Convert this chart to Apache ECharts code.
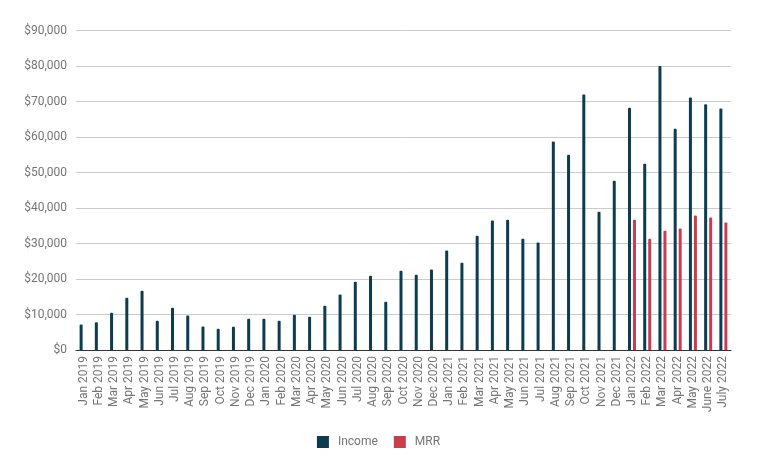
<!DOCTYPE html>
<html>
<head>
<meta charset="utf-8">
<script src="https://cdn.jsdelivr.net/npm/echarts@6/dist/echarts.min.js"></script>
<style>html,body{margin:0;padding:0;background:#fff}#c{width:757px;height:468px}</style>
</head>
<body>
<div id="c"></div>
<script>
const categories = ["Jan 2019","Feb 2019","Mar 2019","Apr 2019","May 2019","Jun 2019","Jul 2019","Aug 2019","Sep 2019","Oct 2019","Nov 2019","Dec 2019",
"Jan 2020","Feb 2020","Mar 2020","Apr 2020","May 2020","Jun 2020","Jul 2020","Aug 2020","Sep 2020","Oct 2020","Nov 2020","Dec 2020",
"Jan 2021","Feb 2021","Mar 2021","Apr 2021","May 2021","Jun 2021","Jul 2021","Aug 2021","Sep 2021","Oct 2021","Nov 2021","Dec 2021",
"Jan 2022","Feb 2022","Mar 2022","Apr 2022","May 2022","June 2022","July 2022"];
const income = [7200,7800,10500,14700,16700,8250,11900,9750,6650,6000,6550,8800,
8800,8250,9950,9400,12500,15600,19250,20950,13600,22350,21200,22650,
28000,24600,32200,36450,36700,31350,30250,58700,55000,71950,38950,47700,
68250,52500,80000,62350,71100,69200,68050];
const mrr = [null,null,null,null,null,null,null,null,null,null,null,null,
null,null,null,null,null,null,null,null,null,null,null,null,
null,null,null,null,null,null,null,null,null,null,null,null,
36700,31350,33600,34200,37900,37350,35950];
const yTicks = {min:0, max:90000, interval:10000};

const chart = echarts.init(document.getElementById('c'));
chart.setOption({
  animation:false,
  textStyle:{fontFamily:'Roboto'},
  grid:{left:76,right:26,top:30.5,bottom:118,containLabel:false},
  legend:{
    data:['Income','MRR'],
    left:'center', top:431,
    icon:'rect', itemWidth:12, itemHeight:12, itemGap:16,
    textStyle:{color:'#757575',fontSize:12,fontFamily:'Roboto',padding:[0,0,0,4]}
  },
  xAxis:{
    type:'category', data:categories,
    axisLine:{lineStyle:{color:'#333',width:1}},
    axisTick:{show:false},
    axisLabel:{rotate:90,interval:0,margin:6,color:'#757575',fontSize:12,fontFamily:'Roboto'}
  },
  yAxis:{
    type:'value', min:yTicks.min, max:yTicks.max, interval:yTicks.interval,
    axisLine:{show:false}, axisTick:{show:false},
    splitLine:{lineStyle:{color:'#cccccc',width:1}},
    axisLabel:{margin:9,color:'#757575',fontSize:12,fontFamily:'Roboto',
      formatter:v=>'$'+v.toLocaleString('en-US')}
  },
  series:[
    {name:'Income',type:'bar',data:income,barWidth:3,barGap:'67%',
     itemStyle:{color:'#0b3c51',borderRadius:[1,1,0,0]}},
    {name:'MRR',type:'bar',data:mrr,barWidth:3,barGap:'67%',
     itemStyle:{color:'#cb3c4e',borderRadius:[1,1,0,0]}}
  ]
});
</script>
</body>
</html>
